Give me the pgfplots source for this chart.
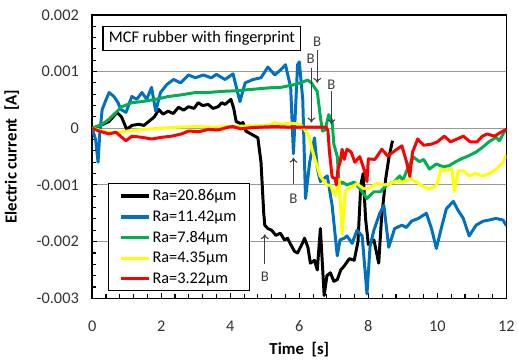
\documentclass[border=0pt]{standalone}
\usepackage{pgfplots}
\pgfplotsset{compat=1.18}
\usetikzlibrary{arrows.meta}
\usepackage{fontspec}
\setmainfont{Carlito}
\definecolor{cblue}{RGB}{0,112,192}
\definecolor{cgreen}{RGB}{0,176,80}
\definecolor{cyellow}{RGB}{255,255,0}
\definecolor{cred}{RGB}{255,0,0}
\begin{document}
\begin{tikzpicture}
\begin{axis}[
 scale only axis, width=418bp, height=286bp,
 xmin=0, xmax=12, ymin=-3, ymax=2,
 xtick={0,2,4,6,8,10,12}, ytick={-3,-2,-1,0,1,2},
 yticklabels={-0.003,-0.002,-0.001,0,0.001,0.002},
 minor x tick num=4, minor y tick num=4,
 tick align=inside, xtick pos=bottom, ytick pos=left,
 major tick length=5bp, minor tick length=4bp,
 axis line style={line width=1.6bp},
 every tick/.style={black, line width=1.1bp},
 ymajorgrids, major grid style={black!40, line width=1.1bp},
 tick label style={font=\fontsize{16.5}{19}\selectfont, text=black!80},
 /pgf/number format/assume math mode=true,
 xticklabel style={yshift=-19bp},
 yticklabel style={xshift=-10bp},
 every axis x label/.style={at={(axis description cs:0.5,-0.182)}, anchor=center, font=\bfseries\fontsize{17}{20}\selectfont},
 every axis y label/.style={at={(axis description cs:-0.194,0.5)}, rotate=90, anchor=center, font=\bfseries\fontsize{17}{20}\selectfont},
 xlabel={Time\ \ [s]}, ylabel={Electric current\ \ [A]},
 legend style={at={(axis description cs:0.038,0.406)}, anchor=north west, draw=black, line width=1.1bp, fill=white,
   font=\fontsize{16.5}{19}\selectfont, inner xsep=11bp, inner ysep=4bp, row sep=4.5bp},
 legend cell align=left,
 legend image code/.code={\draw[#1, line width=3.5bp] (0bp,0bp) -- (28bp,0bp);},
 every axis plot/.append style={line width=3bp, line join=round},
]
\addplot[black] coordinates {
(0,0) (0.25,0.05) (0.49,0.12) (0.72,0.28) (0.85,0.2) (1.0,-0.02) (1.15,0.05) (1.35,0.07) (1.5,0.05) (1.64,0.12)
(1.8,0.2) (1.93,0.33) (2.05,0.25) (2.2,0.3) (2.35,0.26) (2.5,0.37) (2.65,0.32) (2.79,0.38) (2.95,0.35) (3.07,0.45)
(3.2,0.4) (3.36,0.42) (3.5,0.35) (3.65,0.38) (3.75,0.45) (3.85,0.42) (4.02,0.51) (4.1,0.35) (4.17,0.12) (4.3,0.08)
(4.37,0.1) (4.45,-0.05) (4.6,-0.1) (4.8,-0.17) (4.89,-0.6) (4.97,-1.5) (5.0,-1.71) (5.09,-1.77) (5.2,-1.8) (5.32,-1.89)
(5.45,-1.85) (5.57,-1.97) (5.66,-1.94) (5.75,-2.05) (5.86,-2.17) (5.95,-2.2) (6.09,-2.03) (6.15,-1.94) (6.25,-2.1) (6.32,-2.38)
(6.44,-2.33) (6.52,-2.5) (6.61,-1.77) (6.72,-2.95) (6.8,-2.6) (6.9,-2.55) (7.0,-2.7) (7.1,-2.67) (7.2,-2.5) (7.3,-2.43)
(7.45,-2.3) (7.59,-2.33) (7.7,-2.0) (7.78,-1.0) (7.85,-0.8) (7.92,-1.6) (8.0,-2.05) (8.16,-1.97) (8.3,-2.38) (8.38,-1.6)
(8.5,-0.9) (8.6,-0.5) (8.7,-0.22)
};
\addlegendentry{Ra=20.86μm}
\addplot[cblue] coordinates {
(0,0) (0.1,-0.2) (0.17,-0.6) (0.22,-0.1) (0.29,0.33) (0.4,0.5) (0.49,0.63) (0.63,0.56) (0.75,0.45) (0.83,0.33)
(0.98,0.28) (1.08,0.45) (1.15,0.56) (1.29,0.51) (1.44,0.63) (1.58,0.51) (1.72,0.72) (1.84,0.3) (1.98,0.63) (2.16,0.77)
(2.36,0.86) (2.56,0.8) (2.79,0.94) (2.99,0.89) (3.22,0.94) (3.45,0.89) (3.6,0.95) (3.71,0.91) (3.85,0.86) (4.08,0.96)
(4.28,0.47) (4.43,0.8) (4.66,0.86) (4.89,0.89) (5.09,1.08) (5.29,0.94) (5.46,1.03) (5.6,1.12) (5.75,0.72) (5.83,-0.45)
(5.95,1.12) (6.0,1.17) (6.1,0.5) (6.18,-1.24) (6.3,-0.6) (6.44,-0.17) (6.52,-0.7) (6.61,-0.94) (6.81,-0.84) (6.95,-1.36)
(7.1,-2.25) (7.18,-1.97) (7.3,-1.94) (7.38,-1.9) (7.53,-2.03) (7.67,-1.8) (7.82,-1.9) (7.96,-2.92) (8.05,-2.08) (8.16,-1.8)
(8.33,-1.5) (8.45,-1.36) (8.59,-2.1) (8.76,-1.77) (8.97,-1.71) (9.1,-1.75) (9.25,-1.64) (9.45,-1.59) (9.68,-1.5) (9.83,-1.77)
(9.97,-2.12) (10.11,-1.77) (10.26,-1.42) (10.46,-1.29) (10.6,-1.45) (10.75,-1.59) (10.92,-1.9) (11.12,-1.71) (11.32,-1.64) (11.49,-1.62)
(11.7,-1.59) (11.9,-1.62) (12.0,-1.72)
};
\addlegendentry{Ra=11.42μm}
\addplot[cgreen] coordinates {
(0,0) (0.29,0.07) (0.49,0.16) (0.69,0.28) (0.86,0.38) (1.15,0.45) (1.44,0.47) (1.84,0.51) (2.21,0.56) (2.59,0.59)
(2.99,0.63) (3.36,0.63) (3.74,0.65) (4.14,0.66) (4.51,0.68) (4.89,0.7) (5.29,0.72) (5.46,0.72) (5.86,0.77) (6.03,0.8)
(6.24,0.85) (6.35,0.8) (6.44,0.72) (6.52,0.65) (6.61,0.2) (6.67,-0.05) (6.75,-0.03) (6.85,0.24) (6.95,0.12) (7.0,-0.28)
(7.1,-0.5) (7.15,-0.98) (7.25,-0.95) (7.38,-1.0) (7.59,-0.95) (7.76,-1.07) (7.96,-1.24) (8.16,-1.12) (8.35,-1.12) (8.53,-1.0)
(8.74,-0.95) (8.91,-0.84) (9.0,-0.92) (9.17,-0.66) (9.31,-0.51) (9.48,-0.59) (9.6,-0.55) (9.77,-0.72) (9.97,-0.63) (10.17,-0.68)
(10.34,-0.66) (10.5,-0.6) (10.69,-0.54) (10.89,-0.49) (11.12,-0.42) (11.32,-0.33) (11.49,-0.24) (11.7,-0.16) (11.8,-0.22) (11.93,-0.07)
(12.0,-0.02)
};
\addlegendentry{Ra=7.84μm}
\addplot[cyellow] coordinates {
(0,0) (0.3,-0.05) (0.6,-0.08) (1.0,-0.05) (1.5,-0.02) (2.0,0.0) (2.5,0.02) (3.0,0.03) (3.5,0.02) (4.0,0.03)
(4.5,0.04) (5.09,0.05) (5.29,0.1) (5.46,0.07) (5.75,0.09) (6.03,0.07) (6.15,-0.02) (6.29,-0.16) (6.38,-0.4) (6.52,-0.68)
(6.61,-0.85) (6.81,-1.01) (6.9,-1.0) (7.04,-1.19) (7.1,-1.0) (7.15,-0.9) (7.24,-1.87) (7.33,-1.1) (7.47,-1.05) (7.67,-0.98)
(7.87,-1.07) (8.05,-1.05) (8.25,-0.97) (8.45,-1.0) (8.62,-0.98) (8.82,-0.93) (9.0,-0.95) (9.2,-0.89) (9.4,-0.95) (9.6,-1.03)
(9.77,-1.07) (9.97,-1.01) (10.11,-0.72) (10.3,-0.75) (10.42,-0.72) (10.49,-1.12) (10.6,-0.75) (10.75,-0.75) (10.92,-0.84) (11.1,-0.8)
(11.32,-0.84) (11.5,-0.8) (11.7,-0.72) (11.9,-0.6) (12.0,-0.47)
};
\addlegendentry{Ra=4.35μm}
\addplot[cred] coordinates {
(0,0) (0.2,-0.05) (0.49,-0.1) (0.69,-0.07) (0.86,-0.16) (0.98,-0.22) (1.15,-0.14) (1.44,-0.16) (1.72,-0.19) (2.01,-0.16)
(2.3,-0.14) (2.59,-0.1) (2.79,-0.05) (3.1,-0.06) (3.36,-0.02) (3.65,-0.03) (3.94,0.02) (4.08,0.03) (4.3,-0.01) (4.6,0.01)
(4.89,0.02) (5.29,0.03) (5.7,0.02) (6.1,0.02) (6.5,0.02) (6.78,0.02) (6.83,-0.05) (6.87,-0.4) (6.95,-0.86) (7.04,-0.89)
(7.07,-1.0) (7.12,-0.72) (7.18,-0.6) (7.24,-0.37) (7.3,-0.55) (7.38,-0.37) (7.5,-0.42) (7.61,-0.6) (7.75,-0.5) (7.9,-0.77)
(7.96,-0.94) (8.0,-0.54) (8.19,-0.55) (8.39,-0.37) (8.56,-0.49) (8.76,-0.4) (8.97,-0.31) (9.11,-0.6) (9.2,-0.85) (9.28,-0.42)
(9.43,-0.19) (9.6,-0.3) (9.83,-0.28) (10.0,-0.24) (10.2,-0.14) (10.38,-0.24) (10.57,-0.19) (10.75,-0.14) (10.95,-0.24) (11.15,-0.24)
(11.3,-0.14) (11.44,-0.1) (11.65,-0.14) (11.84,-0.07) (12.0,-0.02)
};
\addlegendentry{Ra=3.22μm}
\node[draw, line width=1.1bp, fill=white, inner xsep=6bp, inner ysep=5bp, font=\fontsize{16.5}{19}\selectfont]
  at (axis description cs:0.265,0.916) {MCF rubber with fingerprint};
\begin{scope}[black!75, line width=1.1bp, font=\fontsize{15}{17}\selectfont, >={To[length=5bp,width=8bp]}]
\draw[->] (axis cs:5.83,-0.98) -- (axis cs:5.83,-0.52);
\node at (axis cs:5.83,-1.24) {B};
\draw[->] (axis cs:5.0,-2.40) -- (axis cs:5.0,-1.87);
\node at (axis cs:5.0,-2.62) {B};
\draw[->] (axis cs:6.35,1.07) -- (axis cs:6.35,0.10);
\node at (axis cs:6.33,1.22) {B};
\draw[->] (axis cs:6.52,1.38) -- (axis cs:6.52,0.80);
\node at (axis cs:6.52,1.52) {B};
\draw[->] (axis cs:6.93,0.65) -- (axis cs:6.93,0.07);
\node at (axis cs:6.93,0.77) {B};
\end{scope}
\end{axis}
\path[use as bounding box] ([xshift=-93bp,yshift=-64bp]current axis.south west) rectangle ([xshift=7bp,yshift=15bp]current axis.north east);
\end{tikzpicture}
\end{document}
